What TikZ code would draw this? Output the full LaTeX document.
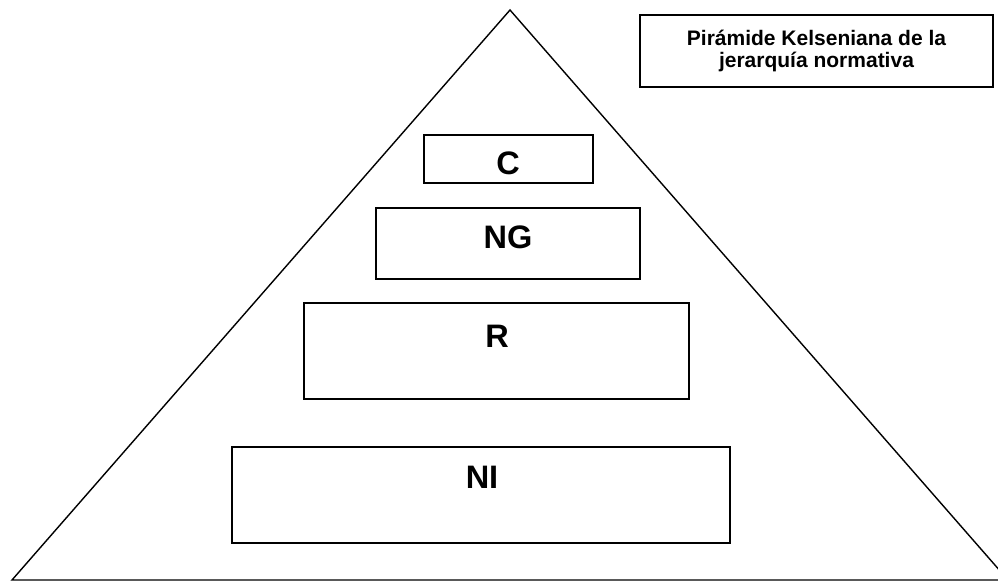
\documentclass[tikz,border=0pt]{standalone}
\usepackage{fontspec}
\setmainfont{Liberation Sans}

\begin{document}
\begin{tikzpicture}
  [x=1pt, y=-1pt, line width=1.4pt,
   caja/.style={draw, rectangle, inner sep=0pt},
   letra/.style={anchor=base, inner sep=0pt, font=\fontsize{32.5}{34}\selectfont\bfseries},
   titulo/.style={draw, rectangle, inner sep=0pt, align=center,
                  minimum width=353pt, minimum height=72pt,
                  font=\fontsize{21}{22}\selectfont\bfseries}]
  \useasboundingbox (0,0) rectangle (998,583);
  % piramide
  \begin{scope}
    \clip (0,0) rectangle (998,583);
    \draw (510,10) -- (12,580) -- (1008,580) -- cycle;
  \end{scope}
  % titulo
  \node[titulo] (titulo) at (816.5,51) {Pirámide Kelseniana de la\\jerarquía normativa};
  % niveles
  \node[caja, minimum width=169pt, minimum height=48pt] (cajaC)  at (508.5,159) {};
  \node[caja, minimum width=264pt, minimum height=71pt] (cajaNG) at (508,243.5) {};
  \node[caja, minimum width=385pt, minimum height=96pt] (cajaR)  at (496.5,351) {};
  \node[caja, minimum width=498pt, minimum height=96pt] (cajaNI) at (481,495) {};
  \node[letra] (C)  at (508,174) {C};
  \node[letra] (NG) at (508,248) {NG};
  \node[letra] (R)  at (497,347.5) {R};
  \node[letra] (NI) at (482,488) {NI};
\end{tikzpicture}
\end{document}
